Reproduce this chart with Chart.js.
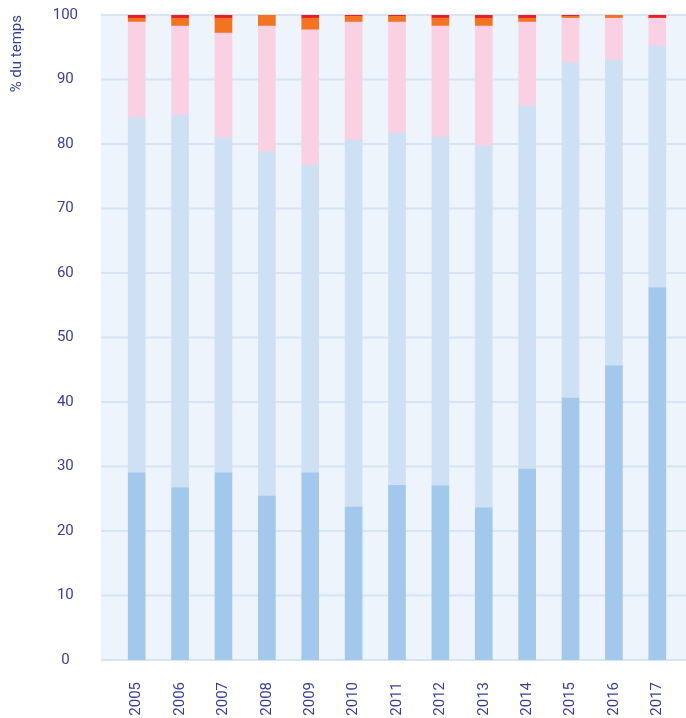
<!DOCTYPE html>
<html lang="fr">
<head>
<meta charset="UTF-8">
<title>% du temps</title>
<script src="https://cdn.jsdelivr.net/npm/chart.js"></script>
<style>
body { margin: 0; background: #fff; }
#cadre { width: 686px; height: 718px; position: relative; }
</style>
</head>
<body>

<div id="cadre"><canvas id="graphique"></canvas></div>

<script>
// valeurs (en % du temps)
var annees = ['2005', '2006', '2007', '2008', '2009', '2010', '2011', '2012', '2013', '2014', '2015', '2016', '2017'];
var bleuFonce = [29.0, 26.7, 29.0, 25.4, 29.0, 23.7, 27.1, 27.0, 23.6, 29.6, 40.6, 45.6, 57.7];
var bleuClair = [55.1, 57.8, 52.0, 53.4, 47.7, 56.9, 54.6, 54.1, 56.1, 56.3, 52.0, 47.4, 37.5];
var rose = [14.8, 13.8, 16.2, 19.5, 21.0, 18.3, 17.2, 17.2, 18.6, 13.0, 6.9, 6.5, 4.3];
var orange = [0.6, 1.2, 2.3, 1.7, 1.8, 0.9, 0.9, 1.2, 1.2, 0.6, 0.3, 0.5, 0];
var rouge = [0.5, 0.5, 0.5, 0, 0.5, 0.2, 0.2, 0.5, 0.5, 0.5, 0.2, 0, 0.5];

var couleurTexte = '#3A3E9A';
var police = { family: 'Roboto', size: 15 };

// fond bleu clair et lignes horizontales
var fond = {
    id: 'fond',
    beforeDraw: function(chart) {
        var ctx = chart.ctx;
        var zone = chart.chartArea;
        var y = chart.scales.y;
        var gauche = zone.left - 14;
        ctx.save();
        ctx.fillStyle = '#EDF4FC';
        ctx.fillRect(gauche, zone.top, chart.width - gauche, zone.bottom - zone.top);
        ctx.strokeStyle = '#D6E4F5';
        ctx.lineWidth = 2;
        y.ticks.forEach(function(t) {
            var py = y.getPixelForValue(t.value);
            ctx.beginPath();
            ctx.moveTo(gauche, py);
            ctx.lineTo(chart.width, py);
            ctx.stroke();
        });
        ctx.restore();
    }
};

function serie(donnees, couleur) {
    return {
        data: donnees,
        backgroundColor: couleur,
        borderWidth: 0,
        barThickness: 17
    };
}

// pas de marge automatique autour des axes
function sansMarge(s) {
    s.paddingTop = 0;
    s.paddingBottom = 0;
    s.paddingLeft = 0;
    s.paddingRight = 0;
}

var ctx = document.getElementById('graphique').getContext('2d');
var chart = new Chart(ctx, {
    type: 'bar',
    data: {
        labels: annees,
        datasets: [
            serie(bleuFonce, '#A2C8EB'),
            serie(bleuClair, '#CDE0F4'),
            serie(rose, '#FAD0E3'),
            serie(orange, '#F47321'),
            serie(rouge, '#ED1C24')
        ]
    },
    options: {
        responsive: true,
        maintainAspectRatio: false,
        animation: false,
        layout: { padding: { top: 15, right: 7, bottom: 0, left: 0 } },
        plugins: {
            legend: { display: false },
            tooltip: { enabled: false }
        },
        scales: {
            x: {
                stacked: true,
                grid: { display: false, drawTicks: false },
                border: { display: false },
                ticks: {
                    minRotation: 90,
                    maxRotation: 90,
                    padding: 22,
                    color: couleurTexte,
                    font: police
                },
                afterFit: function(s) { s.height = 58; sansMarge(s); }
            },
            y: {
                stacked: true,
                min: 0,
                max: 100,
                grid: { display: false, drawTicks: false },
                border: { display: false },
                ticks: {
                    stepSize: 10,
                    padding: 37,
                    crossAlign: 'center',
                    color: couleurTexte,
                    font: police
                },
                title: {
                    display: true,
                    text: '% du temps',
                    align: 'end',
                    padding: { top: 8, bottom: 0 },
                    color: couleurTexte,
                    font: police
                },
                afterFit: function(s) { s.width = 115; sansMarge(s); }
            }
        }
    },
    plugins: [fond]
});
</script>

</body>
</html>
